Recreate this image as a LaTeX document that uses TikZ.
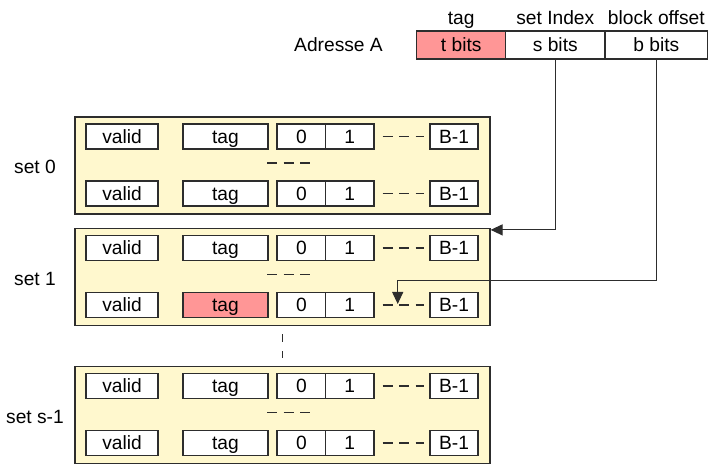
\documentclass[tikz,border=0pt]{standalone}
\usepackage{fontspec}
\setmainfont{Liberation Sans}
\usetikzlibrary{arrows.meta}
\definecolor{setfill}{RGB}{255,248,206}
\definecolor{hitred}{RGB}{255,150,150}
\definecolor{linegray}{RGB}{45,45,45}

\tikzset{
  lbl/.style={font=\fontsize{9.6}{11}\selectfont, inner sep=0pt,
    text height=7pt, text depth=0.4pt},
  cell/.style={lbl, draw=linegray, line width=0.6pt, minimum height=12.5pt},
  setbox/.style={draw=linegray, fill=setfill, line width=0.6pt,
    minimum width=207.5pt, minimum height=48.5pt, inner sep=0pt},
  dashrow/.style={linegray, line width=0.6pt, dash pattern=on 5pt off 3.25pt},
  pointer/.style={linegray, line width=0.6pt, -{Triangle[length=6pt,width=5.5pt]}}
}

\begin{document}
\begin{tikzpicture}[x=0.5pt, y=-0.5pt]
    \useasboundingbox (0,0) rectangle (716,474);

    % address
    \node[lbl](adr) at (338.5, 45){Adresse A};
    \node[cell, fill=hitred, minimum width=44.5pt, minimum height=14pt](tbits) at (461.2, 45){t bits};
    \node[cell, fill=white, minimum width=49.65pt, minimum height=14pt](sbits) at (555.3, 45){s bits};
    \node[cell, fill=white, minimum width=51.35pt, minimum height=14pt](bbits) at (656.3, 45){b bits};
    \node[lbl](tagtxt) at (461.2, 18){tag};
    \node[lbl](settxt) at (555.3, 18){set Index};
    \node[lbl](offtxt) at (656.3, 18){block offset};

    % the sets
    \foreach \s/\top/\name/\hit in {0/117/set 0/white, 1/228.5/set 1/hitred, 2/366.5/set s-1/white}{
      \node[setbox](set\s) at (282.5, \top+48.5){};
      \node[lbl](lab\s) at (35, \top+50){\name};
      \foreach \r/\dy/\tagfill in {a/19.5/white, b/76.5/\hit}{
        \node[cell, fill=white, minimum width=36pt](valid\s\r) at (122, \top+\dy){valid};
        \node[cell, fill=\tagfill, minimum width=42.5pt](tag\s\r) at (225.5, \top+\dy){tag};
        \node[cell, fill=white, minimum width=24.35pt](zero\s\r) at (301.4, \top+\dy){0};
        \node[cell, fill=white, minimum width=24.15pt](one\s\r) at (349.8, \top+\dy){1};
        \node[cell, fill=white, minimum width=24pt](last\s\r) at (454, \top+\dy){B-1};
        \draw[dashrow, shorten <=4pt, shorten >=2.5pt] (one\s\r.east) -- (last\s\r.west);
      }
      \draw[dashrow] (267, \top+46) -- (312, \top+46);
    }
    \draw[linegray, line width=0.6pt, dash pattern=on 4pt off 4.5pt,
      shorten <=4pt, shorten >=4pt] (set1.south) -- (set2.north);

    % set index -> set 1
    \draw[pointer] (sbits.south) |- ([yshift=-1pt]set1.north east);
    % block offset -> byte
    \coordinate (bend) at (397.7, 280.7);
    \coordinate (byte) at (397.7, 304);
    \draw[pointer] (bbits.south) |- (bend) -- (byte);
\end{tikzpicture}
\end{document}
